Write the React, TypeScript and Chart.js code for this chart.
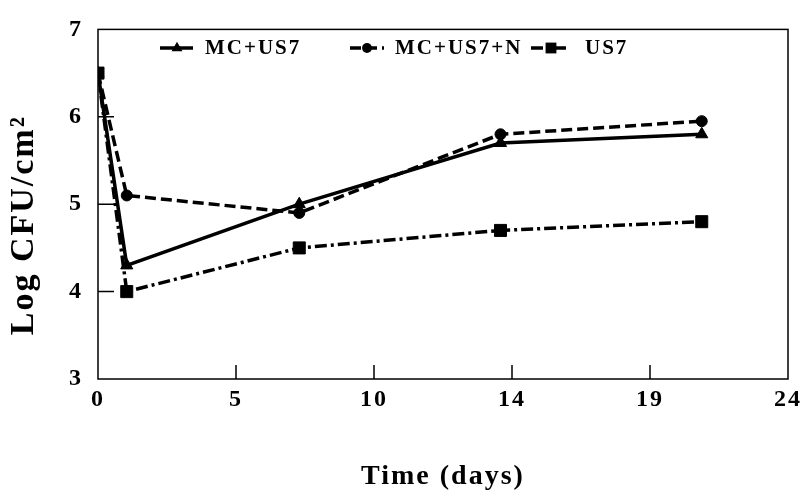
import React, { useEffect, useRef } from 'react';
import { Chart, registerables } from 'chart.js';

Chart.register(...registerables);

const days = [0, 1, 7, 14, 21];
const mcUs7 = [6.5, 4.3, 5.0, 5.7, 5.8];
const mcUs7N = [6.5, 5.1, 4.9, 5.8, 5.95];
const us7 = [6.5, 4.0, 4.5, 4.7, 4.8];
const seriesNames = ['MC+US7', 'MC+US7+N', 'US7'];
const xTickValues = [0, 4.8, 9.6, 14.4, 19.2, 24];
const xTickLabels = ['0', '5', '10', '14', '19', '24'];
const yTickValues = [3, 4, 5, 6, 7];

const FAMILY = "'Liberation Serif', 'Times New Roman', serif";

function drawMarker(ctx: CanvasRenderingContext2D, style: string, x: number, y: number, r: number) {
  ctx.beginPath();
  if (style === 'triangle') {
    ctx.moveTo(x, y - r);
    ctx.lineTo(x + r * 0.866, y + r * 0.5);
    ctx.lineTo(x - r * 0.866, y + r * 0.5);
    ctx.closePath();
  } else if (style === 'circle') {
    ctx.arc(x, y, r, 0, Math.PI * 2);
  } else {
    const s = r * Math.SQRT1_2;
    ctx.rect(x - s, y - s, 2 * s, 2 * s);
  }
  ctx.fill();
}

const legendLayout = [
  { x0: 160, x1: 193, mx: 177, tx: 205 },
  { x0: 350, x1: 384, mx: 367, tx: 395 },
  { x0: 531, x1: 568, mx: 551, tx: 585 },
];

const framePlugin = {
  id: 'frameAndTicks',
  beforeDraw(chart: any) {
    const ctx = chart.ctx;
    try { (ctx as any).letterSpacing = '2px'; } catch (e) {}
  },
  beforeDatasetsDraw(chart: any) {
    const { ctx, chartArea } = chart;
    const xs = chart.scales.x;
    const ys = chart.scales.y;
    ctx.save();
    ctx.strokeStyle = '#000';
    ctx.lineWidth = 1.5;
    ctx.setLineDash([]);
    ctx.strokeRect(chartArea.left, chartArea.top, chartArea.right - chartArea.left, chartArea.bottom - chartArea.top);
    ctx.beginPath();
    xs.ticks.forEach((t: any, i: number) => {
      if (i === 0 || i === xs.ticks.length - 1) return;
      const px = xs.getPixelForValue(t.value);
      ctx.moveTo(px, chartArea.bottom);
      ctx.lineTo(px, chartArea.bottom - 14);
    });
    ys.ticks.forEach((t: any, i: number) => {
      if (i === 0 || i === ys.ticks.length - 1) return;
      const py = ys.getPixelForValue(t.value);
      ctx.moveTo(chartArea.left, py);
      ctx.lineTo(chartArea.left + 16, py);
    });
    ctx.stroke();
    ctx.restore();
  },
  afterDraw(chart: any) {
    const ctx = chart.ctx;
    ctx.save();
    const y = 48;
    chart.data.datasets.forEach((ds: any, i: number) => {
      const L = legendLayout[i];
      ctx.strokeStyle = '#000';
      ctx.fillStyle = '#000';
      ctx.lineWidth = 3.5;
      ctx.setLineDash(ds.borderDash || []);
      ctx.beginPath();
      ctx.moveTo(L.x0, y);
      ctx.lineTo(L.x1, y);
      ctx.stroke();
      ctx.setLineDash([]);
      drawMarker(ctx, ds.pointStyle, L.mx, y, ds.pointRadius * 0.9);
      ctx.font = `bold 21px ${FAMILY}`;
      ctx.textAlign = 'left';
      ctx.textBaseline = 'middle';
      ctx.fillText(ds.label, L.tx, y + 1);
    });
    ctx.restore();
  },
};

export default function App() {
  const ref = useRef<HTMLCanvasElement | null>(null);
  useEffect(() => {
    document.body.style.margin = '0';
    const canvas = ref.current;
    if (!canvas) return;
    const toPts = (vals: number[]) => days.map((d, i) => ({ x: d, y: vals[i] }));
    const chart = new Chart(canvas, {
      type: 'line',
      data: {
        datasets: [
          {
            label: seriesNames[0],
            data: toPts(mcUs7),
            borderColor: '#000',
            backgroundColor: '#000',
            borderWidth: 3.5,
            borderDash: [],
            pointStyle: 'triangle',
            pointRadius: 7,
            pointBackgroundColor: '#000',
            pointBorderColor: '#000',
            pointBorderWidth: 1,
            tension: 0,
          },
          {
            label: seriesNames[1],
            data: toPts(mcUs7N),
            borderColor: '#000',
            backgroundColor: '#000',
            borderWidth: 3.5,
            borderDash: [11, 5],
            pointStyle: 'circle',
            pointRadius: 5.5,
            pointBackgroundColor: '#000',
            pointBorderColor: '#000',
            pointBorderWidth: 1,
            tension: 0,
          },
          {
            label: seriesNames[2],
            data: toPts(us7),
            borderColor: '#000',
            backgroundColor: '#000',
            borderWidth: 3.5,
            borderDash: [12, 4, 3, 4],
            pointStyle: 'rect',
            pointRadius: 8.5,
            pointBackgroundColor: '#000',
            pointBorderColor: '#000',
            pointBorderWidth: 1,
            tension: 0,
          },
        ] as any,
      },
      options: {
        animation: false,
        responsive: false,
        maintainAspectRatio: false,
        events: [],
        layout: { padding: { top: 20, right: 13, bottom: 0, left: 0 } },
        plugins: {
          legend: { display: false },
          tooltip: { enabled: false },
        },
        scales: {
          x: {
            type: 'linear',
            min: 0,
            max: 24,
            grid: { display: false, drawTicks: false },
            border: { display: false },
            afterBuildTicks: (scale: any) => {
              scale.ticks = xTickValues.map((v) => ({ value: v }));
            },
            afterFit: (scale: any) => {
              scale.height = 112;
            },
            ticks: {
              autoSkip: false,
              maxRotation: 0,
              padding: 6,
              color: '#000',
              font: { family: FAMILY, size: 24, weight: 'bold' },
              callback: (_v: any, i: number) => xTickLabels[i],
            },
            title: {
              display: true,
              text: 'Time (days)',
              color: '#000',
              font: { family: FAMILY, size: 28, weight: 'bold', lineHeight: 1 },
              padding: { top: 0, bottom: 0 },
            },
          },
          y: {
            type: 'linear',
            min: 3,
            max: 7,
            grid: { display: false, drawTicks: false },
            border: { display: false },
            afterBuildTicks: (scale: any) => {
              scale.ticks = yTickValues.map((v) => ({ value: v }));
            },
            afterFit: (scale: any) => {
              scale.width = 98;
            },
            ticks: {
              padding: 15,
              color: '#000',
              font: { family: FAMILY, size: 24, weight: 'bold' },
              callback: (v: any) => String(v),
            },
            title: {
              display: true,
              text: 'Log CFU/cm²    ',
              color: '#000',
              font: { family: FAMILY, size: 34, weight: 'bold', lineHeight: 1 },
              padding: { top: 7, bottom: 0 },
            },
          },
        },
      } as any,
      plugins: [framePlugin],
    });
    return () => chart.destroy();
  }, []);
  return (
    <div style={{ width: 806, height: 491, background: '#fff' }}>
      <canvas ref={ref} width={806} height={491} style={{ display: 'block', width: 806, height: 491 }} />
    </div>
  );
}
